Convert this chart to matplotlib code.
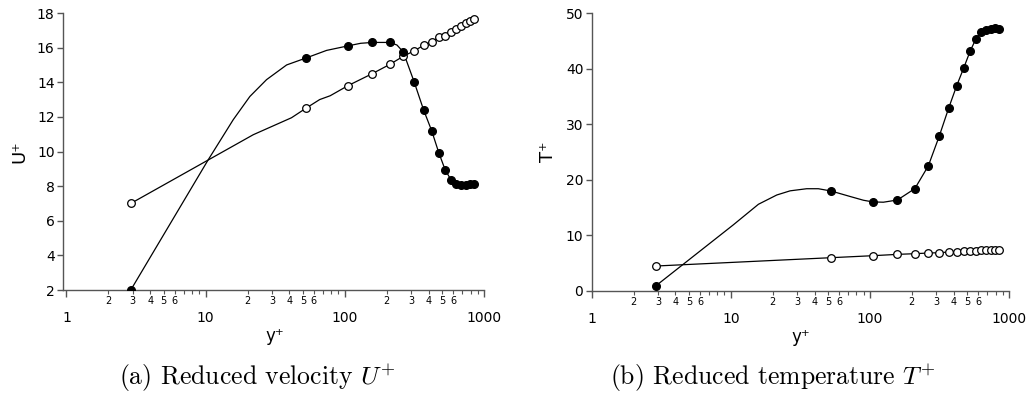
import matplotlib

matplotlib.use("Agg")
import matplotlib.pyplot as plt
from matplotlib.ticker import FixedLocator, FuncFormatter, LogLocator

# y+ positions of the plotted samples
yplus = [2.9, 52.6, 105.2, 157.8, 210.4, 263.0, 315.6, 368.2, 420.8, 473.4,
         526.0, 578.6, 631.2, 683.8, 736.4, 789.0, 841.6]

# (a) reduced velocity
u_filled = [2.0, 15.4, 16.1, 16.3, 16.3, 15.75, 14.0, 12.4, 11.2, 9.93,
            8.94, 8.37, 8.15, 8.08, 8.08, 8.1, 8.12]
u_open = [7.0, 12.5, 13.8, 14.5, 15.03, 15.5, 15.82, 16.13, 16.34, 16.59,
          16.7, 16.92, 17.09, 17.23, 17.42, 17.54, 17.65]
# continuous profiles between the first samples
u_fcurve_x = [2.9, 10.4, 15.8, 20.8, 27.4, 38.2, 52.6, 74.0, 105.2,
              130.0, 157.8, 185.0, 210.4, 237.0, 263.0]
u_fcurve_y = [2.0, 9.5, 11.84, 13.18, 14.15, 15.0, 15.4, 15.84, 16.1,
              16.25, 16.3, 16.3, 16.3, 16.15, 15.75]
u_ocurve_x = [2.9, 22.0, 41.4, 52.6, 66.0, 78.5, 105.2]
u_ocurve_y = [7.0, 10.97, 11.95, 12.5, 13.0, 13.22, 13.8]

# (b) reduced temperature
t_filled = [0.9, 17.97, 16.0, 16.35, 18.4, 22.5, 27.9, 32.9, 36.96, 40.2,
            43.2, 45.4, 46.6, 47.0, 47.2, 47.3, 47.2]
t_open = [4.45, 5.95, 6.31, 6.55, 6.67, 6.79, 6.85, 6.97, 7.03, 7.09,
          7.15, 7.2, 7.27, 7.33, 7.33, 7.39, 7.4]
t_fcurve_x = [2.9, 10.4, 15.8, 21.4, 26.7, 35.1, 42.6, 52.6, 72.8,
              90.0, 105.2, 125.0, 157.8]
t_fcurve_y = [0.9, 11.85, 15.58, 17.25, 18.0, 18.38, 18.38, 17.97, 16.95,
              16.3, 16.0, 15.95, 16.35]

u_ticks = [2, 4, 6, 8, 10, 12, 14, 16, 18]
t_ticks = [0, 10, 20, 30, 40, 50]

SPINE = "#555555"


def minor_label(v, pos):
    lead = int(round(v / 10 ** int(f"{v:e}".split("e")[1])))
    return str(lead) if 2 <= lead <= 6 else ""


def style_axes(ax, xmin, ylim, yticks):
    ax.set_xscale("log")
    ax.set_xlim(xmin, 1000)
    ax.set_ylim(*ylim)
    ax.set_yticks(yticks)
    for side in ("top", "right"):
        ax.spines[side].set_visible(False)
    for side in ("left", "bottom"):
        ax.spines[side].set_color(SPINE)
        ax.spines[side].set_linewidth(1.0)
    ax.xaxis.set_major_locator(FixedLocator([1, 10, 100, 1000]))
    ax.xaxis.set_major_formatter(FuncFormatter(lambda v, p: f"{v:g}"))
    ax.xaxis.set_minor_locator(LogLocator(base=10, subs=range(2, 10), numticks=20))
    ax.xaxis.set_minor_formatter(FuncFormatter(minor_label))
    ax.tick_params(axis="x", which="major", length=5, width=1, color=SPINE,
                   labelsize=10, pad=10)
    ax.tick_params(axis="x", which="minor", length=3, width=0.8, color=SPINE,
                   labelsize=7, pad=1.5)
    ax.tick_params(axis="y", length=4, width=1, color=SPINE, labelsize=10, pad=2)


fig = plt.figure(figsize=(10.28, 3.98), dpi=100)
ax1 = fig.add_axes([63 / 1028, 108 / 398, 421 / 1028, 277 / 398])
ax2 = fig.add_axes([591.7 / 1028, 107.3 / 398, 417.3 / 1028, 277.4 / 398])

line_kw = dict(color="black", linewidth=0.9, zorder=2)
filled_kw = dict(linestyle="none", marker="o", markersize=5.5, color="black", zorder=3)
open_kw = dict(linestyle="none", marker="o", markersize=5.5, color="black",
               markerfacecolor="white", markeredgewidth=0.9, zorder=3)

# (a)
ax1.plot(u_fcurve_x, u_fcurve_y, **line_kw)
ax1.plot(yplus[5:], u_filled[5:], **line_kw)
ax1.plot(u_ocurve_x, u_ocurve_y, **line_kw)
ax1.plot(yplus[2:], u_open[2:], **line_kw)
ax1.plot(yplus, u_open, **open_kw)
ax1.plot(yplus, u_filled, **filled_kw)
style_axes(ax1, 0.945, (2, 18), u_ticks)
ax1.set_ylabel("U\u207a", fontsize=13)
ax1.set_xlabel("y\u207a", fontsize=12)
ax1.yaxis.set_label_coords(-0.083, 0.5)
ax1.xaxis.set_label_coords(0.503, -0.135)

# (b)
ax2.plot(t_fcurve_x, t_fcurve_y, **line_kw)
ax2.plot(yplus[3:], t_filled[3:], **line_kw)
ax2.plot(yplus, t_open, **line_kw)
ax2.plot(yplus, t_open, **open_kw)
ax2.plot(yplus, t_filled, **filled_kw)
style_axes(ax2, 1.0, (0, 50), t_ticks)
ax2.set_ylabel("T\u207a", fontsize=13)
ax2.set_xlabel("y\u207a", fontsize=12)
ax2.yaxis.set_label_coords(-0.082, 0.5)
ax2.xaxis.set_label_coords(0.5, -0.135)

plt.rcParams["mathtext.fontset"] = "cm"
cap_kw = dict(fontsize=18.5, family="cmr10", ha="center", va="baseline")
fig.text(257 / 1028, 1 - 385 / 398, r"(a) Reduced velocity $U^{+}$", **cap_kw)
fig.text(772.5 / 1028, 1 - 385 / 398, r"(b) Reduced temperature $T^{+}$", **cap_kw)

fig.savefig("out.png", dpi=100)
plt.close(fig)
